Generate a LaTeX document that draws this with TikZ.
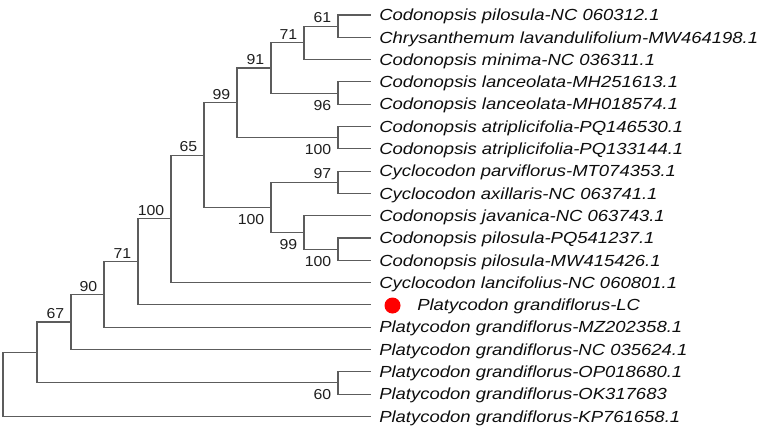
\documentclass[tikz,border=0pt]{standalone}
\usepackage{fontspec}
\usepackage{tikz}

\newfontfamily\TaxonFont{Liberation Sans}[FakeStretch=1.15]
\newfontfamily\BootFont{Liberation Sans}[FakeStretch=1.10]
\definecolor{branchgray}{HTML}{5C5C5C}

\begin{document}
\begin{tikzpicture}[x=0.75pt,y=-0.75pt]

%% one unit = one pixel of the 767x430 frame, y runs downwards
%% leaves sit 22.3 apart, the tips all end at x = 371
%% bootstrap values are set left of the node they belong to

\tikzset{
  branch/.style={draw=branchgray, line width=0.8pt},
  taxon/.style={anchor=base west, inner sep=0pt, text=black!95,
    font=\TaxonFont\itshape\fontsize{12.05}{14}\selectfont},
  bootup/.style={anchor=base east, inner sep=0pt, text=black!88,
    font=\BootFont\fontsize{10.8}{12}\selectfont, shift={(-6.5,-3.5)}},
  bootdown/.style={bootup, shift={(0,20.5)}},
  lcdot/.style={circle, fill=red, inner sep=0pt, minimum size=12pt},
}

\useasboundingbox (0,0) rectangle (767,430);

%% leaves
\foreach \i/\taxon in {0/Codonopsis pilosula-NC 060312.1,
  1/Chrysanthemum lavandulifolium-MW464198.1,
  2/Codonopsis minima-NC 036311.1,
  3/Codonopsis lanceolata-MH251613.1,
  4/Codonopsis lanceolata-MH018574.1,
  5/Codonopsis atriplicifolia-PQ146530.1,
  6/Codonopsis atriplicifolia-PQ133144.1,
  7/Cyclocodon parviflorus-MT074353.1,
  8/Cyclocodon axillaris-NC 063741.1,
  9/Codonopsis javanica-NC 063743.1,
  10/Codonopsis pilosula-PQ541237.1,
  11/Codonopsis pilosula-MW415426.1,
  12/Cyclocodon lancifolius-NC 060801.1,
  14/Platycodon grandiflorus-MZ202358.1,
  15/Platycodon grandiflorus-NC 035624.1,
  16/Platycodon grandiflorus-OP018680.1,
  17/Platycodon grandiflorus-OK317683,
  18/Platycodon grandiflorus-KP761658.1}{
  \coordinate (t\i) at (371,{15+22.3*\i});
  \node[taxon] (n\i) at (379,{20.75+22.3*\i}) {\taxon};
}

%% the sample of this study
\coordinate (t13) at (371,304.9);
\node[lcdot] (dot13) at (392.5,305.5) {};
\node[taxon] (n13) at (417,310.65) {Platycodon grandiflorus-LC};

%% internal nodes
\coordinate (A) at (338,26.15);
\coordinate (B) at (304,42.9);
\coordinate (C) at (338,93.05);
\coordinate (D) at (271,67.98);
\coordinate (E) at (338,137.65);
\coordinate (F) at (237,102.8);
\coordinate (G) at (338,182.25);
\coordinate (H) at (338,249.15);
\coordinate (I) at (304,232.4);
\coordinate (J) at (271,207.3);
\coordinate (K) at (204,155.1);
\coordinate (L) at (171,218.85);
\coordinate (M) at (138,261.9);
\coordinate (N) at (104,294.5);
\coordinate (O) at (71,322);
\coordinate (P) at (338,382.95);
\coordinate (Q) at (37,352.5);
\coordinate (R) at (3,384.45);

%% branches
\draw[branch] (A) |- (t0)  (A) |- (t1);
\draw[branch] (B) |- (A)   (B) |- (t2);
\draw[branch] (C) |- (t3)  (C) |- (t4);
\draw[branch] (D) |- (B)   (D) |- (C);
\draw[branch] (E) |- (t5)  (E) |- (t6);
\draw[branch] (F) |- (D)   (F) |- (E);
\draw[branch] (G) |- (t7)  (G) |- (t8);
\draw[branch] (H) |- (t10) (H) |- (t11);
\draw[branch] (I) |- (t9)  (I) |- (H);
\draw[branch] (J) |- (G)   (J) |- (I);
\draw[branch] (K) |- (F)   (K) |- (J);
\draw[branch] (L) |- (K)   (L) |- (t12);
\draw[branch] (M) |- (L)   (M) |- (t13);
\draw[branch] (N) |- (M)   (N) |- (t14);
\draw[branch] (O) |- (N)   (O) |- (t15);
\draw[branch] (P) |- (t16) (P) |- (t17);
\draw[branch] (Q) |- (O)   (Q) |- (P);
\draw[branch] (R) |- (Q)   (R) |- (t18);

%% bootstrap support
\node[bootup]   (bsA) at (A) {61};
\node[bootup]   (bsB) at (B) {71};
\node[bootdown] (bsC) at (C) {96};
\node[bootup]   (bsD) at (D) {91};
\node[bootdown] (bsE) at (E) {100};
\node[bootup]   (bsF) at (F) {99};
\node[bootup]   (bsG) at (G) {97};
\node[bootdown] (bsH) at (H) {100};
\node[bootdown] (bsI) at (I) {99};
\node[bootdown] (bsJ) at (J) {100};
\node[bootup]   (bsK) at (K) {65};
\node[bootup]   (bsL) at (L) {100};
\node[bootup]   (bsM) at (M) {71};
\node[bootup]   (bsN) at (N) {90};
\node[bootup]   (bsO) at (O) {67};
\node[bootdown] (bsP) at (P) {60};

\end{tikzpicture}
\end{document}
